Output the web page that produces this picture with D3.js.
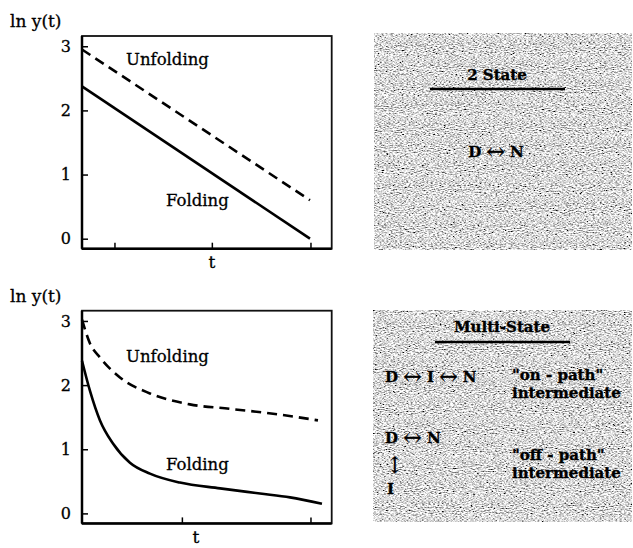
<!DOCTYPE html>
<html><head><meta charset="utf-8">
<script src="https://cdn.jsdelivr.net/npm/d3@7"></script>
<style>body{margin:0;background:#fff}svg{display:block}</style>
</head><body>
<script>
// ---- data ----
const yTicks = [0, 1, 2, 3];
const topXTicks = [0.13, 0.52, 0.915];
const botXTicks = [0.40, 0.915];

const topUnfolding = [[0, 2.95], [0.913, 0.60]];
const topFolding = [[0, 2.375], [0.913, 0.0]];

const botUnfolding = [[0, 3.02], [0.032, 2.65], [0.072, 2.43], [0.152, 2.12], [0.272, 1.87],
  [0.432, 1.70], [0.593, 1.63], [0.793, 1.54], [0.945, 1.45]];
const botFolding = [[0, 2.38], [0.032, 1.91], [0.072, 1.45], [0.124, 1.09], [0.192, 0.79],
  [0.272, 0.62], [0.392, 0.48], [0.553, 0.39], [0.713, 0.31], [0.833, 0.25], [0.961, 0.15]];

const panels = [
  {top: 36, xTicks: topXTicks, unf: topUnfolding, fol: topFolding, curve: d3.curveLinear,
   yLabelY: 27, unfPos: [126, 65], folPos: [166, 206], tPos: [212, 268]},
  {top: 310.7, xTicks: botXTicks, unf: botUnfolding, fol: botFolding, curve: d3.curveMonotoneX,
   yLabelY: 302, unfPos: [126, 362], folPos: [166, 470], tPos: [196, 543]}
];

const W = 633, H = 548;
const svg = d3.select("body").append("svg").attr("width", W).attr("height", H)
  .style("font-family", "'DejaVu Serif', serif");

// noise texture filter
const defs = svg.append("defs");
const f = defs.append("filter").attr("id", "grain").attr("x", 0).attr("y", 0).attr("width", 1).attr("height", 1);
f.append("feTurbulence").attr("type", "fractalNoise").attr("baseFrequency", "0.45 0.95")
  .attr("numOctaves", 2).attr("seed", 7).attr("result", "n");
f.append("feColorMatrix").attr("in", "n").attr("type", "matrix")
  .attr("values", "2.3 0 0 0 -0.45  2.3 0 0 0 -0.45  2.3 0 0 0 -0.45  0 0 0 0 1").attr("result", "g");
f.append("feComposite").attr("in", "g").attr("in2", "SourceGraphic").attr("operator", "in");

const x0 = 82, x1 = 331.7, plotH = 212.7;
panels.forEach(p => {
  const x = d3.scaleLinear().domain([0, 1]).range([x0, x1]);
  const y = d3.scaleLinear().domain([-0.156, 3.16]).range([p.top + plotH, p.top]);
  const g = svg.append("g");

  g.append("rect").attr("x", x0).attr("y", p.top).attr("width", x1 - x0).attr("height", plotH)
    .attr("fill", "none").attr("stroke", "#111").attr("stroke-width", 1.8);
  g.append("line").attr("x1", x0).attr("x2", x0).attr("y1", p.top).attr("y2", p.top + plotH)
    .attr("stroke", "#000").attr("stroke-width", 2.5);
  g.append("line").attr("x1", x0).attr("x2", x1).attr("y1", p.top + plotH).attr("y2", p.top + plotH)
    .attr("stroke", "#000").attr("stroke-width", 2.5);

  const ya = g.append("g").attr("transform", `translate(${x0},0)`)
    .call(d3.axisLeft(y).tickValues(yTicks).tickSizeInner(-6).tickSizeOuter(0).tickPadding(11).tickFormat(d3.format("d")));
  ya.select(".domain").remove();
  ya.selectAll("line").attr("stroke", "#000").attr("stroke-width", 1.5);
  ya.selectAll("text").attr("font-size", 16).attr("font-family", "'DejaVu Serif', serif").attr("fill", "#000")
    .attr("stroke", "#000").attr("stroke-width", 0.3);

  const xa = g.append("g").attr("transform", `translate(0,${p.top + plotH})`)
    .call(d3.axisBottom(x).tickValues(p.xTicks).tickSizeInner(-6).tickSizeOuter(0).tickFormat(""));
  xa.select(".domain").remove();
  xa.selectAll("line").attr("stroke", "#000").attr("stroke-width", 1.5);

  const line = d3.line().x(d => x(d[0])).y(d => y(d[1])).curve(p.curve);
  g.append("path").datum(p.unf).attr("d", line).attr("fill", "none").attr("stroke", "#000")
    .attr("stroke-width", 2.6).attr("stroke-dasharray", "10,6");
  g.append("path").datum(p.fol).attr("d", line).attr("fill", "none").attr("stroke", "#000")
    .attr("stroke-width", 2.6);

  const lab = (xx, yy, s, size) => g.append("text").attr("x", xx).attr("y", yy).attr("font-size", size)
    .attr("stroke", "#000").attr("stroke-width", 0.3).text(s);
  lab(10, p.yLabelY, "ln y(t)", 17);
  lab(p.unfPos[0], p.unfPos[1], "Unfolding", 16.5);
  lab(p.folPos[0], p.folPos[1], "Folding", 16.5);
  lab(p.tPos[0], p.tPos[1], "t", 17).attr("text-anchor", "middle");
});

const boxes = [{x: 374, y: 33, w: 258, h: 217}, {x: 373, y: 310, w: 259, h: 212}];
boxes.forEach(b => {
  svg.append("rect").attr("x", b.x).attr("y", b.y).attr("width", b.w).attr("height", b.h)
    .attr("fill", "#888").attr("filter", "url(#grain)");
});

function txt(xp, yp, parts, anchor, size) {
  const t = svg.append("text").attr("x", xp).attr("y", yp).attr("font-weight", "bold")
    .attr("font-size", size || 15).attr("fill", "#000")
    .attr("stroke", "#000").attr("stroke-width", 0.35);
  if (anchor) t.attr("text-anchor", anchor);
  let prevArrow = false;
  (Array.isArray(parts) ? parts : [parts]).forEach(s => {
    const isArrow = s === "\u2194";
    const ts = t.append("tspan").text(s);
    if (isArrow) ts.attr("font-size", 22).attr("font-weight", "normal").attr("dy", 1.5);
    else if (prevArrow) ts.attr("dy", -1.5);
    prevArrow = isArrow;
  });
  return t;
}
txt(497, 80, "2 State", "middle");
svg.append("line").attr("x1", 430).attr("x2", 565).attr("y1", 89).attr("y2", 89).attr("stroke", "#000").attr("stroke-width", 2.5);
txt(496, 157, ["D ", "\u2194", " N"], "middle");

txt(502, 332, "Multi-State", "middle");
svg.append("line").attr("x1", 435).attr("x2", 570).attr("y1", 342).attr("y2", 342).attr("stroke", "#000").attr("stroke-width", 2.5);
txt(385, 382, ["D ", "\u2194", " I ", "\u2194", " N"]);
txt(512, 380, "\"on - path\"");
txt(512, 398, "intermediate");
txt(385, 443, ["D ", "\u2194", " N"]);
txt(385, 473, "\u2195", null, 23).attr("stroke-width", 0).attr("font-weight", "normal");
txt(387, 494, "I");
txt(512, 460, "\"off - path\"");
txt(512, 478, "intermediate");
</script>
</body></html>
